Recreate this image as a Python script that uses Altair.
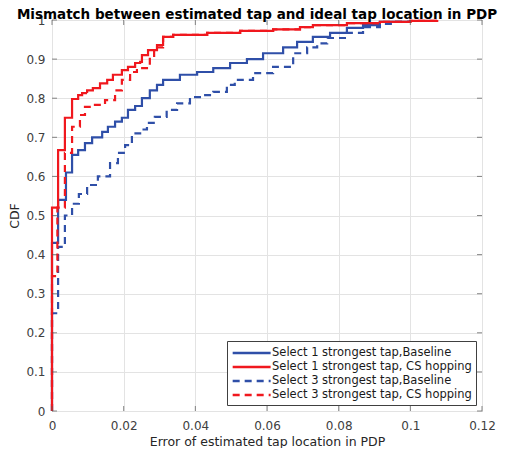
import altair as alt
import pandas as pd

TITLE = "Mismatch between estimated tap and ideal tap location in PDP"
X_TITLE = "Error of estimated tap location in PDP"
Y_TITLE = "CDF"
NAMES = [
    "Select 1 strongest tap,Baseline",
    "Select 1 strongest tap, CS hopping",
    "Select 3 strongest tap,Baseline",
    "Select 3 strongest tap, CS hopping",
]
X_TICKS = [0, 0.02, 0.04, 0.06, 0.08, 0.1, 0.12]
Y_TICKS = [0, 0.1, 0.2, 0.3, 0.4, 0.5, 0.6, 0.7, 0.8, 0.9, 1]

# Select 1 strongest tap, Baseline
s1b_x = [0, 0, 0.0017, 0.0039, 0.0056, 0.0073, 0.0092, 0.0112, 0.014, 0.0156, 0.0176,
         0.0195, 0.0212, 0.0232, 0.0251, 0.0273, 0.0293, 0.031, 0.0357, 0.0405, 0.045,
         0.0497, 0.0544, 0.0589, 0.0645, 0.0684, 0.0728, 0.0776, 0.0823, 0.0868, 0.0915, 0.0999]
s1b_y = [0, 0.43, 0.54, 0.61, 0.655, 0.667, 0.685, 0.70, 0.714, 0.727, 0.74,
         0.75, 0.77, 0.78, 0.80, 0.82, 0.834, 0.847, 0.86, 0.867, 0.877,
         0.89, 0.90, 0.915, 0.93, 0.944, 0.957, 0.967, 0.98, 0.987, 0.995, 1.0]

# Select 1 strongest tap, CS hopping
s1c_x = [0, 0, 0.0017, 0.0036, 0.0056, 0.0073, 0.0084, 0.0098, 0.0114, 0.0134, 0.0154,
         0.017, 0.0195, 0.0212, 0.0232, 0.0246, 0.0251, 0.0268, 0.0293, 0.031, 0.0338,
         0.0433, 0.0525, 0.0617, 0.0692, 0.0728, 0.0823, 0.0915, 0.1, 0.1075]
s1c_y = [0, 0.52, 0.667, 0.75, 0.798, 0.808, 0.813, 0.82, 0.826, 0.838, 0.847,
         0.86, 0.872, 0.88, 0.89, 0.893, 0.91, 0.923, 0.936, 0.957, 0.962,
         0.967, 0.972, 0.976, 0.982, 0.987, 0.992, 0.995, 0.998, 1.0]

# Select 3 strongest tap, Baseline
s3b_x = [0, 0, 0.0017, 0.0036, 0.0056, 0.0075, 0.0098, 0.0128, 0.0162, 0.0184, 0.0204,
         0.0223, 0.0246, 0.0265, 0.0287, 0.032, 0.0349, 0.0385, 0.0421, 0.045, 0.0488,
         0.051, 0.0561, 0.0617, 0.0673, 0.0712, 0.074, 0.0768, 0.0823, 0.0868, 0.0915,
         0.0951, 0.0999]
s3b_y = [0, 0.25, 0.42, 0.50, 0.53, 0.555, 0.578, 0.60, 0.634, 0.66, 0.68,
         0.71, 0.72, 0.737, 0.752, 0.77, 0.787, 0.803, 0.808, 0.816, 0.834,
         0.847, 0.864, 0.88, 0.915, 0.93, 0.94, 0.954, 0.967, 0.982, 0.99,
         0.995, 1.0]

# Select 3 strongest tap, CS hopping
s3c_x = [0, 0, 0.0015, 0.0036, 0.0056, 0.0078, 0.0092, 0.0114, 0.0148, 0.0176, 0.0195,
         0.0218, 0.0237, 0.0265, 0.0273, 0.0285, 0.031, 0.0338, 0.0433, 0.0525, 0.0617,
         0.0692, 0.0728, 0.0823, 0.0915, 0.1, 0.1075]
s3c_y = [0, 0.345, 0.52, 0.66, 0.727, 0.757, 0.778, 0.783, 0.795, 0.82, 0.847,
         0.867, 0.877, 0.885, 0.905, 0.93, 0.957, 0.962, 0.967, 0.972, 0.976,
         0.982, 0.987, 0.992, 0.995, 0.998, 1.0]

BLUE = "#2f4fa8"
RED = "#f0181e"

rows = []
for name, xs_, ys_ in zip(NAMES, [s1b_x, s1c_x, s3b_x, s3c_x], [s1b_y, s1c_y, s3b_y, s3c_y]):
    for i, (x, y) in enumerate(zip(xs_, ys_)):
        rows.append({"series": name, "x": x, "y": y, "order": i})
df = pd.DataFrame(rows)
xt = pd.DataFrame({"x": X_TICKS})
yt = pd.DataFrame({"y": Y_TICKS})

W, H = 430, 391
FONT = "DejaVu Sans"

xs = alt.Scale(domain=[0, 0.12], nice=False)
ys = alt.Scale(domain=[0, 1], nice=False)

x_axis = alt.Axis(values=X_TICKS, format=".2~f", grid=True, gridColor="#e3e3e3",
                  tickSize=0, domain=False, labelPadding=9, titlePadding=4,
                  labelFlush=False, labelOverlap=False,
                  labelFontSize=12, titleFontSize=12.5, labelColor="#404040",
                  titleColor="#262626", labelFont=FONT, titleFont=FONT,
                  titleFontWeight="normal")
y_axis = alt.Axis(values=Y_TICKS, format=".1~f", grid=True, gridColor="#e3e3e3",
                  tickSize=0, domain=False, labelPadding=7, titlePadding=4,
                  labelFlush=False, labelOverlap=False,
                  labelFontSize=12, titleFontSize=12.5, labelColor="#404040",
                  titleColor="#262626", labelFont=FONT, titleFont=FONT,
                  titleFontWeight="normal")

legend = alt.Legend(title=None, orient="none", legendX=175, legendY=321,
                    symbolType="M-1,0H5", symbolSize=160,
                    symbolStrokeWidth=2.5, labelFont=FONT,
                    labelFontSize=11.5, labelColor="#1a1a1a", labelLimit=400,
                    fillColor="white", strokeColor="#404040",
                    padding=4, rowPadding=0, labelOffset=25)

lines = alt.Chart(df).mark_line(interpolate="step-after", strokeWidth=2.2).encode(
    x=alt.X("x:Q", scale=xs, title=X_TITLE, axis=x_axis),
    y=alt.Y("y:Q", scale=ys, title=Y_TITLE, axis=y_axis),
    color=alt.Color("series:N", scale=alt.Scale(domain=NAMES, range=[BLUE, RED, BLUE, RED]),
                    legend=legend),
    strokeDash=alt.StrokeDash("series:N",
                              scale=alt.Scale(domain=NAMES, range=[[1, 0], [1, 0], [7, 5], [7, 5]]),
                              legend=legend),
    order="order:Q",
)

TICK_COLOR = "#555555"
xt_bottom = alt.Chart(xt).mark_tick(size=5, thickness=1, color=TICK_COLOR).encode(
    x=alt.X("x:Q", scale=xs, title=X_TITLE, axis=x_axis), y=alt.value(H - 2.5))
xt_top = alt.Chart(xt).mark_tick(size=5, thickness=1, color=TICK_COLOR).encode(
    x=alt.X("x:Q", scale=xs, title=X_TITLE, axis=x_axis), y=alt.value(2.5))
yt_left = alt.Chart(yt).mark_tick(size=5, thickness=1, color=TICK_COLOR).encode(
    y=alt.Y("y:Q", scale=ys, title=Y_TITLE, axis=y_axis), x=alt.value(2.5))
yt_right = alt.Chart(yt).mark_tick(size=5, thickness=1, color=TICK_COLOR).encode(
    y=alt.Y("y:Q", scale=ys, title=Y_TITLE, axis=y_axis), x=alt.value(W - 2.5))

chart = alt.layer(lines, xt_bottom, xt_top, yt_left, yt_right).properties(
    width=W, height=H,
    autosize=alt.AutoSizeParams(type="none"),
    padding={"left": 44, "top": 12, "right": 24, "bottom": 37},
    title=alt.TitleParams(TITLE, font=FONT, fontSize=13.5, fontWeight="bold", color="black",
                          anchor="middle", frame="group", baseline="bottom", offset=-21.5, dx=-10),
).configure_view(stroke="#7f7f7f", strokeWidth=1)

chart.save("out.html", embed_options={"renderer": "svg", "actions": False})
